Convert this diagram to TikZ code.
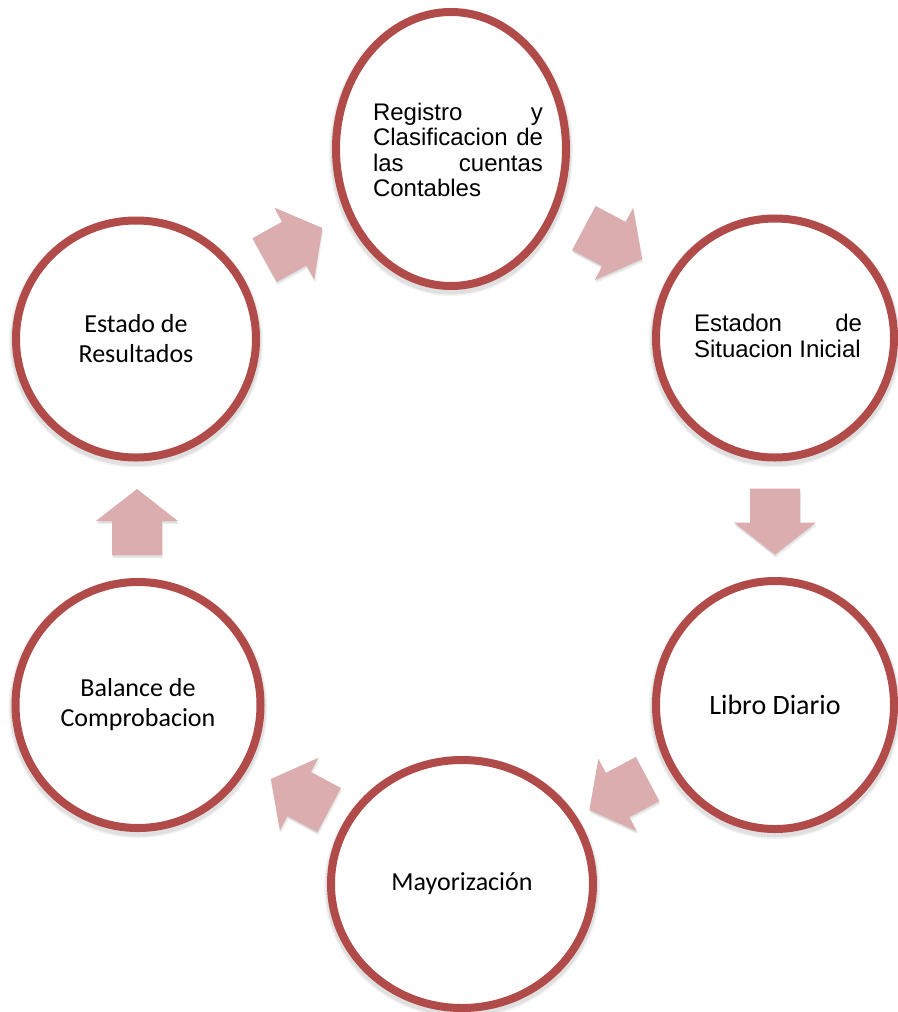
\documentclass[tikz,border=0pt]{standalone}
\usepackage{fontspec}
\setmainfont{Carlito}
\newfontfamily\arialf{Liberation Sans}
\usetikzlibrary{shapes.geometric,shadows,calc}
\definecolor{ringred}{RGB}{176,75,73}
\definecolor{arrowpink}{RGB}{219,173,174}
\tikzset{
  stage/.style={ellipse, draw=ringred, line width=8pt, fill=white, inner sep=0pt, text=black,
    general shadow={draw=black, fill=none, line width=14pt, opacity=0.05, shadow yshift=-3pt},
    general shadow={draw=black, fill=none, line width=11pt, opacity=0.07, shadow yshift=-3pt}},
  calfont/.style={font=\fontsize{26}{30}\selectfont, align=center},
  arfont/.style={font=\arialf\fontsize{24}{25.5}\selectfont, align=left, inner sep=0pt, text=black},
  blockfill/.style={fill=arrowpink},
  blockshade/.style={fill=black, opacity=0.07}
}
\newcommand{\blockarr}[3]{%
  \begin{scope}[shift={($(#1)!0.5!(#2)$)}, xshift=1pt, yshift=-3pt, rotate=#3]
    \fill[blockshade] (-33,-25) -- (1,-25) -- (1,-41) -- (33,0) -- (1,41) -- (1,25) -- (-33,25) -- cycle;
  \end{scope}
  \begin{scope}[shift={($(#1)!0.5!(#2)$)}, yshift=-1.5pt, rotate=#3]
    \fill[blockshade] (-33,-25) -- (1,-25) -- (1,-41) -- (33,0) -- (1,41) -- (1,25) -- (-33,25) -- cycle;
  \end{scope}
  \begin{scope}[shift={($(#1)!0.5!(#2)$)}, rotate=#3]
    \fill[blockfill] (-33,-25) -- (1,-25) -- (1,-41) -- (33,0) -- (1,41) -- (1,25) -- (-33,25) -- cycle;
  \end{scope}}
\begin{document}
\begin{tikzpicture}[x=1pt,y=-1pt]
\useasboundingbox[fill=white] (0,0) rectangle (897,1012);

\node[stage, minimum width=230pt, minimum height=274pt] (reg) at (451,149) {};
\node[arfont] (regtxt) at ($(reg)+(7,1)$)
  {\hbox to 170pt{Registro\hfill y}\\\hbox to 170pt{Clasificacion\hfill de}\\\hbox to 170pt{las\hfill cuentas}\\\hbox to 170pt{Contables\hfill}};
\node[stage, minimum width=238pt, minimum height=239pt] (est) at (775,338) {};
\node[arfont] (esttxt) at ($(est)+(3,-2)$)
  {\hbox to 168pt{Estadon\hfill de}\\\hbox to 168pt{Situacion Inicial\hfill}};
\node[stage, font=\fontsize{28}{32}\selectfont, minimum width=238pt, minimum height=248pt] (lib) at (775,705)
  {Libro Diario};
\node[stage, calfont, minimum width=262pt, minimum height=248pt] (may) at (462,884)
  {Mayorización};
\node[stage, calfont, minimum width=245pt, minimum height=246pt] (bal) at (138,705)
  {Balance de\\Comprobacion};
\node[stage, calfont, minimum width=240pt, minimum height=237pt] (res) at (136,339)
  {Estado de\\Resultados};

\blockarr{reg}{est}{-28}
\blockarr{est}{lib}{-90}
\blockarr{lib}{may}{208}
\blockarr{may}{bal}{152}
\blockarr{bal}{res}{90}
\blockarr{res}{reg}{29}
\end{tikzpicture}
\end{document}
